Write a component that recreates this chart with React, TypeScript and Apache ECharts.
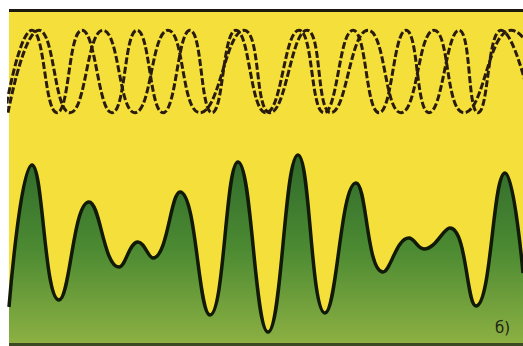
import React, { useEffect, useRef } from "react";
import * as echarts from "echarts";

// Two dashed oscillations: extremes (x position, +1 peak / -1 trough)
const waveAX = [5, 32, 57, 82, 112, 137, 163, 190, 212, 236, 266, 299, 324, 353, 379, 406, 429, 459, 478, 501, 533];
const waveAY = [-1, 1, -1, 1, -1, 1, -1, 1, -1, 1, -1, 1, -1, 1, -1, 1, -1, 1, -1, 1, -1];
const waveBX = [8, 39, 70, 103, 135, 168, 200, 244, 270, 307, 331, 368, 401, 434, 464, 511, 555];
const waveBY = [-1, 1, -1, 1, -1, 1, -1, 1, -1, 1, -1, 1, -1, 1, -1, 1, -1];

// Resulting (summed) curve: x position and height
const sumX = [9, 32, 59, 89, 119, 138, 153, 180, 210, 238, 268, 298, 325, 356, 383, 409, 424, 450, 476, 505, 523];
const sumY = [36, 178, 43, 141, 76, 101, 85, 151, 28, 181, 11, 188, 30, 160, 71, 105, 94, 115, 37, 170, 70];

const label = "б)";

const zip = (xs: number[], ys: number[]) => xs.map((x, i) => [x, ys[i]]);

export default function App() {
  const ref = useRef<HTMLDivElement>(null);
  useEffect(() => {
    document.body.style.margin = "0";
    const chart = echarts.init(ref.current!, undefined, { renderer: "svg" });
    const dash = { color: "#2a1c0c", width: 3, type: [7, 2.5] as any };
    chart.setOption({
      animation: false,
      backgroundColor: "#ffffff",
      grid: [
        { left: 9, right: 0, top: 20, bottom: 223 },
        { left: 9, right: 0, top: 12, bottom: 3 },
      ],
      xAxis: [
        { type: "value", gridIndex: 0, min: 9, max: 523, show: false },
        { type: "value", gridIndex: 1, min: 9, max: 523, show: false },
      ],
      yAxis: [
        { type: "value", gridIndex: 0, min: -1.25, max: 1.25, show: false },
        { type: "value", gridIndex: 1, min: 0, max: 331, show: false },
      ],
      graphic: [
        { type: "rect", z: -10, shape: { x: 9, y: 12, width: 514, height: 331 }, style: { fill: "#f5df3a" } },
        { type: "rect", z: 10, shape: { x: 9, y: 9, width: 514, height: 3 }, style: { fill: "#1c1a10" } },
        { type: "rect", z: 10, shape: { x: 9, y: 343, width: 514, height: 3 }, style: { fill: "#3b4a22" } },
        {
          type: "text",
          z: 20,
          x: 495,
          y: 320,
          style: { text: label, fill: "#1e2410", font: "15px 'DejaVu Sans'" },
        },
      ],
      series: [
        {
          type: "line",
          xAxisIndex: 1,
          yAxisIndex: 1,
          data: zip(sumX, sumY),
          smooth: 0.45,
          symbol: "none",
          lineStyle: { color: "#111a08", width: 3.5 },
          areaStyle: {
            opacity: 1,
            color: new echarts.graphic.LinearGradient(0, 0, 0, 1, [
              { offset: 0, color: "#2f6a2b" },
              { offset: 0.5, color: "#4c8a32" },
              { offset: 1, color: "#8cb043" },
            ]),
          },
        },
        {
          type: "line",
          xAxisIndex: 0,
          yAxisIndex: 0,
          data: zip(waveAX, waveAY),
          smooth: 0.5,
          symbol: "none",
          lineStyle: dash,
        },
        {
          type: "line",
          xAxisIndex: 0,
          yAxisIndex: 0,
          data: zip(waveBX, waveBY),
          smooth: 0.5,
          symbol: "none",
          lineStyle: dash,
        },
      ],
    });
    return () => chart.dispose();
  }, []);
  return <div ref={ref} style={{ position: "fixed", left: 0, top: 0, width: 523, height: 346 }} />;
}
